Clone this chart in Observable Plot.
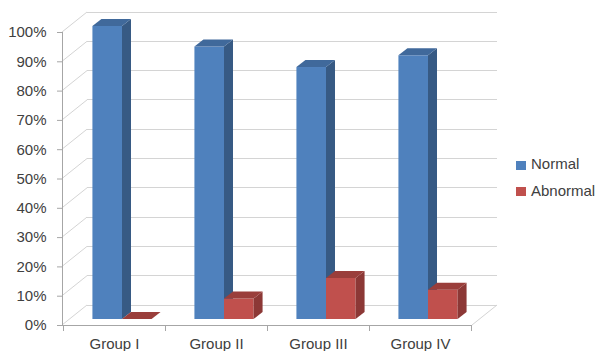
<!DOCTYPE html>
<html>
<head>
<meta charset="utf-8">
<script src="https://cdn.jsdelivr.net/npm/d3@7"></script>
<script src="https://cdn.jsdelivr.net/npm/@observablehq/plot@0.6"></script>
<style>
  body { margin: 0; background: #fff; }
  #wrap { position: relative; width: 599px; height: 351px; overflow: hidden; font-family: "Liberation Sans", Arial, sans-serif; }
  #wrap svg { display: block; }
  .leg { position: absolute; font-size: 15px; line-height: 15px; color: #404040; white-space: nowrap; }
  .sw { position: absolute; width: 10px; height: 9px; }
  [aria-label^="y-axis"] line, [aria-label^="y-axis"] path { stroke: #a6a6a6; }
</style>
</head>
<body>
<div id="wrap"></div>
<script>
// ---- data ----
const groups = ["Group I", "Group II", "Group III", "Group IV"];
const series = ["Normal", "Abnormal"];
const normal = [1.00, 0.93, 0.86, 0.90];
const abnormal = [0.00, 0.07, 0.14, 0.10];
const yTicks = [0, 0.1, 0.2, 0.3, 0.4, 0.5, 0.6, 0.7, 0.8, 0.9, 1.0];

const data = groups.flatMap((g, i) => [
  {group: g, series: "Normal", value: normal[i]},
  {group: g, series: "Abnormal", value: abnormal[i]}
]);

// ---- style ----
const faces = {
  Normal:   {front: "#4F81BD", side: "#375A84", top: "#40699B"},
  Abnormal: {front: "#C0504D", side: "#8C3836", top: "#9A3E3B"}
};
const WALL = {dx: 25, dy: -20};   // depth of the chart box
const BAR_OFF = {dx: 8, dy: -6};  // bar front plane
const BAR_D = {dx: 9, dy: -7};    // bar depth
const BAR_FRAC = 0.29;            // bar width as fraction of band
const gridColor = "#d4d4d4";
const axisColor = "#a6a6a6";

function chart3d(index, scales, values, dimensions) {
  const {x, y} = scales;
  const {width, marginLeft, marginRight} = dimensions;
  const x0f = marginLeft, x1f = width - marginRight;
  const bw = typeof x.bandwidth === "function" ? x.bandwidth() : (x1f - x0f) / groups.length;
  const g = d3.create("svg:g");
  const line = (a, b, c, d, col) => g.append("line")
    .attr("x1", a).attr("y1", b).attr("x2", c).attr("y2", d)
    .attr("stroke", col).attr("stroke-width", 1).attr("shape-rendering", "crispEdges");
  // back wall grid + side wall diagonals
  for (const t of yTicks) {
    const yy = y(t);
    line(x0f + WALL.dx, yy + WALL.dy, x1f + WALL.dx, yy + WALL.dy, gridColor);
    g.append("line").attr("x1", x0f).attr("y1", yy).attr("x2", x0f + WALL.dx).attr("y2", yy + WALL.dy)
      .attr("stroke", gridColor);
  }
  // floor right edge
  g.append("line").attr("x1", x1f).attr("y1", y(0)).attr("x2", x1f + WALL.dx).attr("y2", y(0) + WALL.dy)
    .attr("stroke", gridColor);
  // axes
  line(x0f, y(0), x0f, y(1), axisColor);
  line(x0f, y(0), x1f, y(0), axisColor);
  const bounds = groups.map(d => x(d)).concat([x(groups[groups.length - 1]) + bw]);
  for (const b of bounds) line(b, y(0), b, y(0) + 6, axisColor);
  // bars
  for (const s of series) {
    const k = series.indexOf(s);
    for (const d of data.filter(d => d.series === s)) {
      const c = x(d.group) + bw / 2 + BAR_OFF.dx;
      const xa = c + (k - 1) * BAR_FRAC * bw;
      const xb = xa + BAR_FRAC * bw;
      const yb = y(0) + BAR_OFF.dy;
      const yt = y(d.value) + BAR_OFF.dy;
      const col = faces[s];
      const pts = a => a.map(p => p.join(",")).join(" ");
      g.append("rect").attr("x", xa).attr("y", yt).attr("width", xb - xa).attr("height", Math.max(0, yb - yt))
        .attr("fill", col.front);
      g.append("polygon").attr("points", pts([[xb, yt], [xb + BAR_D.dx, yt + BAR_D.dy], [xb + BAR_D.dx, yb + BAR_D.dy], [xb, yb]]))
        .attr("fill", col.side);
      g.append("polygon").attr("points", pts([[xa, yt], [xa + BAR_D.dx, yt + BAR_D.dy], [xb + BAR_D.dx, yt + BAR_D.dy], [xb, yt]]))
        .attr("fill", col.top);
    }
  }
  return g.node();
}

const plot = Plot.plot({
  width: 599,
  height: 351,
  marginLeft: 62,
  marginRight: 127,
  marginTop: 32,
  marginBottom: 26,
  style: {fontFamily: "'Liberation Sans', Arial, sans-serif", fontSize: "15px", color: "#404040", background: "#fff"},
  x: {type: "band", domain: groups, padding: 0, axis: null},
  y: {domain: [0, 1], ticks: yTicks, tickFormat: d3.format(".0%"), tickSize: 5, tickPadding: 11, label: null},
  marks: [
    chart3d,
    Plot.text(groups, {x: d => d, text: d => d, frameAnchor: "bottom", lineAnchor: "top", dy: 13, fill: "#404040", fontSize: 15})
  ]
});

const wrap = document.getElementById("wrap");
wrap.appendChild(plot);

// legend
const legendPos = [{top: 156, sw: 161}, {top: 183, sw: 187}];
series.forEach((s, i) => {
  const sw = document.createElement("div");
  sw.className = "sw";
  sw.style.left = "516px";
  sw.style.top = legendPos[i].sw + "px";
  sw.style.background = faces[s].front;
  wrap.appendChild(sw);
  const t = document.createElement("div");
  t.className = "leg";
  t.style.left = "531px";
  t.style.top = legendPos[i].top + "px";
  t.textContent = s;
  wrap.appendChild(t);
});
</script>
</body>
</html>
